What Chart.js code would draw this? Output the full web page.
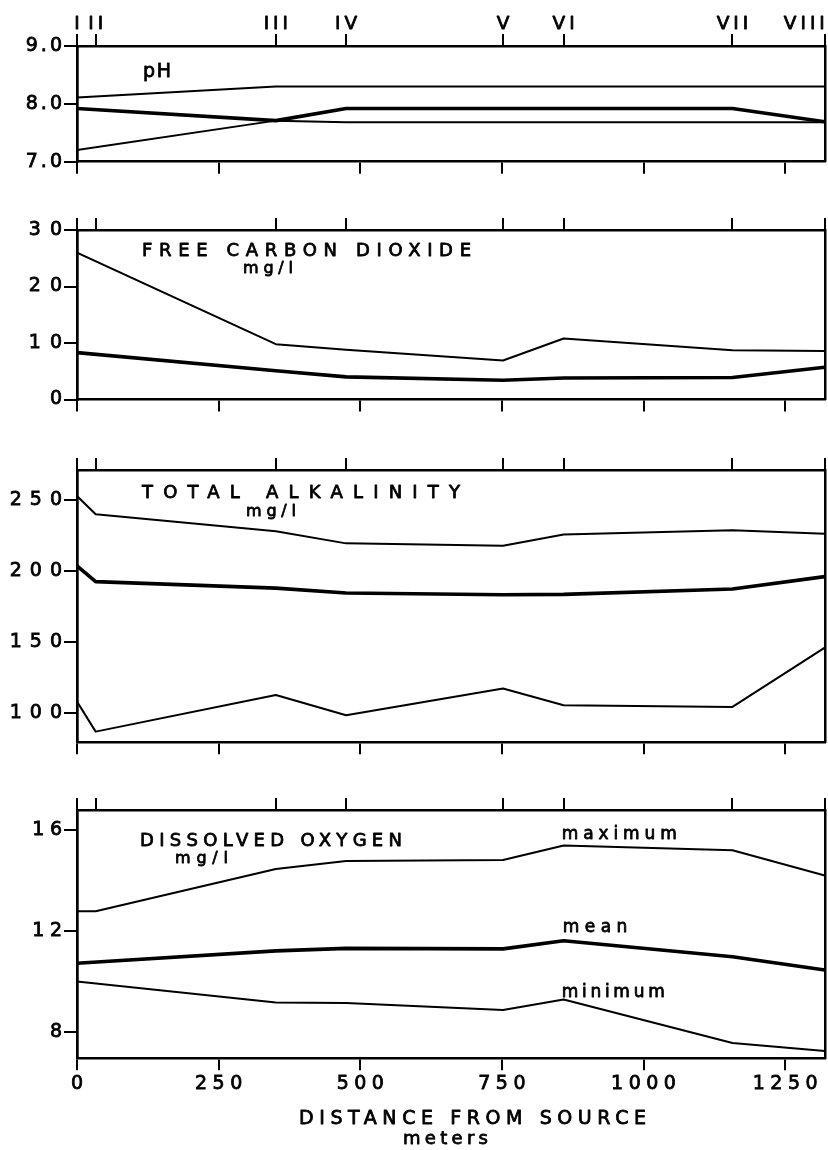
<!DOCTYPE html>
<html>
<head>
<meta charset="utf-8">
<title>Water chemistry along the stream</title>
<script src="https://cdn.jsdelivr.net/npm/chart.js@4/dist/chart.umd.min.js"></script>
<style>
  html, body { margin: 0; padding: 0; background: #fff; }
  #wrap { position: relative; width: 828px; height: 1150px; background: #fff; }
  #wrap canvas { position: absolute; left: 0; }
</style>
</head>
<body>
<div id="wrap">
  <canvas id="phChart" width="828" height="195" style="top:0px"></canvas>
  <canvas id="co2Chart" width="828" height="235" style="top:195px"></canvas>
  <canvas id="alkChart" width="828" height="345" style="top:430px"></canvas>
  <canvas id="doChart" width="828" height="375" style="top:775px"></canvas>
</div>
<script>
// Sampling stations and their distance from the source (m)
const stationNames = ['I', 'II', 'III', 'IV', 'V', 'VI', 'VII', 'VIII'];
const stationDist  = [0, 33, 351, 475, 752, 859, 1157, 1320];

// Distance axis
const distanceTicks  = [0, 250, 500, 750, 1000, 1250];
const distanceLabels = ['0', '250', '500', '750', '1000', '1250'];

// pH
const phMax  = [8.11, null, 8.30, 8.30, 8.30, 8.30, 8.30, 8.30];
const phMean = [7.92, null, 7.71, 7.92, 7.92, 7.92, 7.92, 7.69];
const phMin  = [7.20, null, 7.71, 7.68, 7.68, 7.68, 7.68, 7.68];
const phTicks  = [7, 8, 9];
const phLabels = ['7.0', '8.0', '9.0'];

// Free carbon dioxide, mg/l
const co2Max  = [26.0, null, 9.8, 8.8, 6.9, 10.8, 8.7, 8.6];
const co2Mean = [8.3, null, 5.1, 4.0, 3.4, 3.8, 3.9, 5.7];
const co2Ticks  = [0, 10, 20, 30];
const co2Labels = ['0', '10', '20', '30'];

// Total alkalinity, mg/l
const alkMax  = [252.8, 240.0, 228.0, 219.5, 217.9, 225.7, 228.7, 226.3];
const alkMean = [203.6, 192.6, 188.0, 184.6, 183.4, 183.6, 187.4, 196.1];
const alkMin  = [108.3, 87.1, 112.9, 98.6, 117.4, 105.6, 104.5, 146.2];
const alkTicks  = [100, 150, 200, 250];
const alkLabels = ['100', '150', '200', '250'];

// Dissolved oxygen, mg/l
const doMax  = [12.77, 12.77, 14.45, 14.77, 14.81, 15.38, 15.19, 14.19];
const doMean = [10.71, null, 11.20, 11.30, 11.28, 11.60, 10.97, 10.44];
const doMin  = [9.99, null, 9.15, 9.13, 8.86, 9.27, 7.55, 7.23];
const doTicks  = [8, 12, 16];
const doLabels = ['8', '12', '16'];

const FONT = "'DejaVu Sans', 'Liberation Sans', sans-serif";
const INK = 0.8;            // extra stroke that thickens the lettering
const X_MAX = 1320;
const THIN = 2, THICK = 3.6;

// Letter spacing for the tick labels of one chart
const tickSpacing = {
  id: 'tickSpacing',
  beforeUpdate(chart, args, opts) { chart.ctx.letterSpacing = opts.px + 'px'; },
  beforeDraw(chart, args, opts) { chart.ctx.letterSpacing = opts.px + 'px'; }
};

function inkText(ctx, text, x, y) {
  ctx.lineWidth = INK;
  ctx.strokeStyle = '#000';
  ctx.lineJoin = 'round';
  ctx.fillText(text, x, y);
  ctx.strokeText(text, x, y);
}

// Text stretched to a given width by spacing its letters
function spacedText(ctx, text, left, baseline, size, width) {
  ctx.save();
  ctx.font = size + 'px ' + FONT;
  ctx.letterSpacing = '0px';
  const n = Array.from(text).length;
  const w0 = ctx.measureText(text).width;
  const s = n > 1 ? (width - w0) / (n - 1) : 0;
  ctx.letterSpacing = s + 'px';
  ctx.fillStyle = '#000';
  ctx.textAlign = 'left';
  ctx.textBaseline = 'alphabetic';
  inkText(ctx, text, left, baseline);
  ctx.restore();
}

// Panel captions, curve names and station names
const panelText = {
  id: 'panelText',
  afterDraw(chart, args, opts) {
    const ctx = chart.ctx;
    const a = chart.chartArea;
    (opts.items || []).forEach(t => {
      const y = t.from === 'bottom' ? a.bottom + t.dy : a.top + t.dy;
      spacedText(ctx, t.text, a.left + t.dx, y, t.size, t.w);
    });
    if (opts.stations) {
      const sc = chart.scales.st;
      const gap = 4;
      ctx.save();
      ctx.font = '18.5px ' + FONT;
      ctx.fillStyle = '#000';
      ctx.textBaseline = 'alphabetic';
      ctx.textAlign = 'left';
      ctx.letterSpacing = gap + 'px';
      stationNames.forEach((name, i) => {
        const w = ctx.measureText(name).width - gap;
        let left = sc.getPixelForValue(stationDist[i]) - w / 2;
        if (left + w > a.right) left = a.right - w;
        inkText(ctx, name, left, a.top - 17);
      });
      ctx.restore();
    }
  }
};

function series(values, width) {
  return {
    data: stationDist.map((d, i) => ({ x: d, y: values[i] })).filter(p => p.y !== null),
    borderColor: '#000',
    borderWidth: width,
    borderJoinStyle: 'round',
    borderCapStyle: 'round',
    pointRadius: 0,
    tension: 0,
    fill: false,
    spanGaps: true
  };
}

function makePanel(cfg) {
  const s = cfg.spacing;
  const axisLine = { display: true, width: 2.5, color: '#000' };
  const tickMarks = (len) => ({
    display: true, drawOnChartArea: false, drawTicks: true,
    tickLength: len, lineWidth: 2, tickWidth: 2, color: '#000', tickColor: '#000'
  });
  return new Chart(document.getElementById(cfg.id), {
    type: 'line',
    data: { datasets: cfg.series },
    options: {
      responsive: false,
      animation: false,
      devicePixelRatio: 1,
      layout: { padding: { left: 0, right: 3.2, top: 0, bottom: 0 } },
      plugins: {
        legend: { display: false },
        tooltip: { enabled: false },
        tickSpacing: { px: s },
        panelText: { items: cfg.texts, stations: cfg.stations }
      },
      scales: {
        x: {
          type: 'linear', position: 'bottom', min: 0, max: X_MAX,
          afterBuildTicks: sc => { sc.ticks = distanceTicks.map(v => ({ value: v })); },
          afterFit: sc => { sc.height = cfg.bottomH; sc.paddingLeft = 0; sc.paddingRight = 0; },
          ticks: {
            display: cfg.showDistance, color: '#000', padding: 2, labelOffset: s / 2,
            maxRotation: 0, autoSkip: false,
            textStrokeColor: '#000', textStrokeWidth: INK,
            font: { family: FONT, size: 19 },
            callback: (v, i) => distanceLabels[i]
          },
          grid: tickMarks(12),
          border: axisLine
        },
        st: {
          type: 'linear', axis: 'x', position: 'top', min: 0, max: X_MAX,
          afterBuildTicks: sc => { sc.ticks = stationDist.map(v => ({ value: v })); },
          afterFit: sc => { sc.height = cfg.topH; sc.paddingLeft = 0; sc.paddingRight = 0; },
          ticks: { display: false },
          grid: tickMarks(12),
          border: axisLine
        },
        y: {
          type: 'linear', position: 'left', min: cfg.yMin, max: cfg.yMax,
          afterBuildTicks: sc => { sc.ticks = cfg.yTicks.map(v => ({ value: v })); },
          afterFit: sc => { sc.width = 77; sc.paddingTop = 0; sc.paddingBottom = 0; },
          ticks: {
            color: '#000', padding: 2 - s, autoSkip: false,
            textStrokeColor: '#000', textStrokeWidth: INK,
            font: { family: FONT, size: cfg.yFont },
            callback: (v, i) => cfg.yLabels[i]
          },
          grid: tickMarks(13),
          border: { display: true, width: 2.7, color: '#000' }
        },
        yR: {
          type: 'linear', position: 'right', min: cfg.yMin, max: cfg.yMax,
          afterFit: sc => { sc.width = 0; sc.paddingTop = 0; sc.paddingBottom = 0; },
          ticks: { display: false },
          grid: { display: false },
          border: axisLine
        }
      }
    },
    plugins: [tickSpacing, panelText]
  });
}

makePanel({
  id: 'phChart', topH: 46, bottomH: 33.3, spacing: 3, yFont: 19,
  yMin: 7, yMax: 9, yTicks: phTicks, yLabels: phLabels,
  showDistance: false, stations: true,
  series: [series(phMax, THIN), series(phMean, THICK), series(phMin, THIN)],
  texts: [{ text: 'pH', dx: 66, dy: 31, size: 19, w: 28 }]
});

makePanel({
  id: 'co2Chart', topH: 35, bottomH: 30.5, spacing: 9, yFont: 19,
  yMin: 0, yMax: 30, yTicks: co2Ticks, yLabels: co2Labels,
  showDistance: false, stations: false,
  series: [series(co2Max, THIN), series(co2Mean, THICK)],
  texts: [
    { text: 'FREE CARBON DIOXIDE', dx: 65, dy: 26, size: 18, w: 329 },
    { text: 'mg/l', dx: 166, dy: 43.3, size: 16, w: 50 }
  ]
});

makePanel({
  id: 'alkChart', topH: 40, bottomH: 32.7, spacing: 8, yFont: 19,
  yMin: 79.6, yMax: 271.1, yTicks: alkTicks, yLabels: alkLabels,
  showDistance: false, stations: false,
  series: [series(alkMax, THIN), series(alkMean, THICK), series(alkMin, THIN)],
  texts: [
    { text: 'TOTAL ALKALINITY', dx: 65, dy: 28.3, size: 18, w: 318 },
    { text: 'mg/l', dx: 169, dy: 45.7, size: 16, w: 50 }
  ]
});

makePanel({
  id: 'doChart', topH: 35, bottomH: 91.7, spacing: 5.5, yFont: 19,
  yMin: 6.94, yMax: 16.79, yTicks: doTicks, yLabels: doLabels,
  showDistance: true, stations: false,
  series: [series(doMax, THIN), series(doMean, THICK), series(doMin, THIN)],
  texts: [
    { text: 'DISSOLVED OXYGEN', dx: 63, dy: 36, size: 18, w: 262 },
    { text: 'mg/l', dx: 98, dy: 52.7, size: 16, w: 53 },
    { text: 'maximum', dx: 484.7, dy: 29.3, size: 17, w: 115 },
    { text: 'mean', dx: 485.7, dy: 121.7, size: 17, w: 64.6 },
    { text: 'minimum', dx: 484.7, dy: 186.7, size: 17, w: 103 },
    { text: 'DISTANCE FROM SOURCE', dx: 222, dy: 65.7, from: 'bottom', size: 19, w: 347 },
    { text: 'meters', dx: 326, dy: 85.7, from: 'bottom', size: 18, w: 85 }
  ]
});
</script>
</body>
</html>
